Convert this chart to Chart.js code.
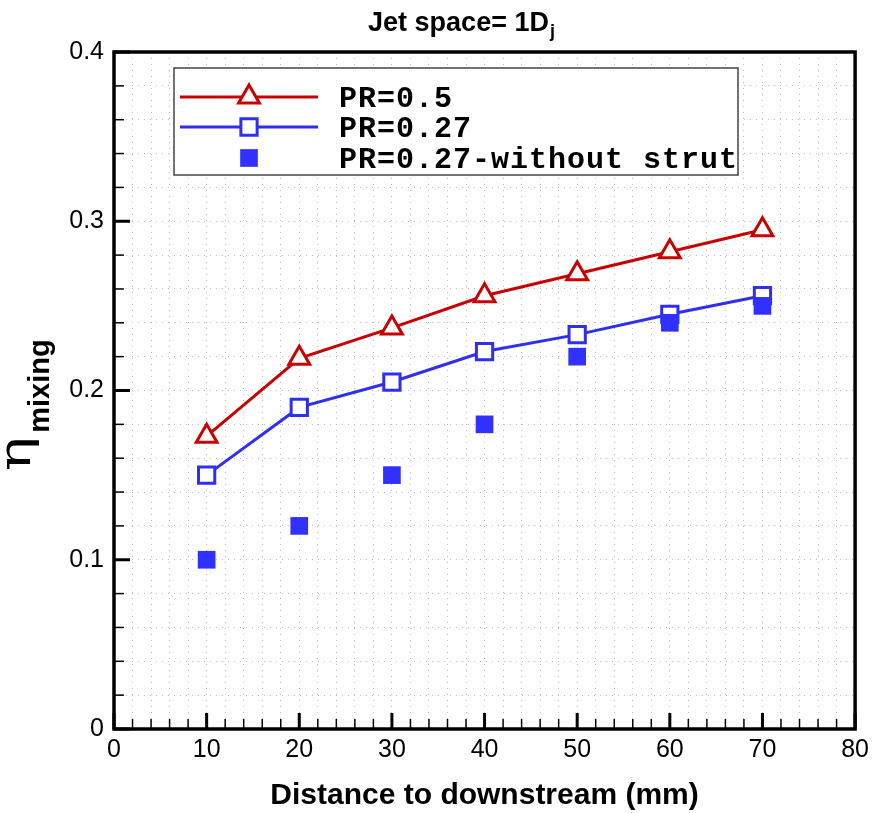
<!DOCTYPE html>
<html>
<head>
<meta charset="utf-8">
<script src="https://cdn.jsdelivr.net/npm/chart.js@4.4.1/dist/chart.umd.min.js"></script>
<style>
  html, body { margin: 0; padding: 0; background: #fff; }
  #chart { display: block; }
</style>
</head>
<body>
<canvas id="chart" width="875" height="813"></canvas>
<script>
// distance downstream (mm)
const distances = [10, 20, 30, 40, 50, 60, 70];
// mixing efficiency per series
const pr05 = [0.173, 0.219, 0.237, 0.256, 0.269, 0.282, 0.295];
const pr027 = [0.150, 0.190, 0.205, 0.223, 0.233, 0.245, 0.256];
const pr027NoStrut = [0.100, 0.120, 0.150, 0.180, 0.220, 0.240, 0.250];

const seriesLabels = ['PR=0.5', 'PR=0.27', 'PR=0.27-without strut'];
const xMajorTicks = [0, 10, 20, 30, 40, 50, 60, 70, 80];
const yMajorTicks = [0, 0.1, 0.2, 0.3, 0.4];

const RED = '#c80000';
const BLUE = '#2f2ff0';
const BLUE_FILL = '#3030ff';

function toPoints(ys) {
  return distances.map((x, i) => ({ x: x, y: ys[i] }));
}

// ticks hacia adentro, caja, leyenda y títulos
const decorPlugin = {
  id: 'decor',
  afterDatasetsDraw(chart) {
    const ctx = chart.ctx;
    const a = chart.chartArea;
    const xs = chart.scales.x;
    const ys = chart.scales.y;
    ctx.save();

    // ticks internos eje x
    ctx.strokeStyle = '#000';
    for (let v = 0; v <= 80; v += 2) {
      const px = xs.getPixelForValue(v);
      const major = v % 10 === 0;
      ctx.lineWidth = major ? 3 : 1.5;
      ctx.beginPath();
      ctx.moveTo(px, a.bottom);
      ctx.lineTo(px, a.bottom - (major ? 16 : 10));
      ctx.stroke();
    }
    // ticks internos eje y
    for (let i = 0; i <= 20; i++) {
      const v = i * 0.02;
      const py = ys.getPixelForValue(v);
      const major = i % 5 === 0;
      ctx.lineWidth = major ? 3 : 1.5;
      ctx.beginPath();
      ctx.moveTo(a.left, py);
      ctx.lineTo(a.left + (major ? 16 : 10), py);
      ctx.stroke();
    }

    // caja
    ctx.lineWidth = 3.5;
    ctx.strokeRect(a.left, a.top, a.right - a.left, a.bottom - a.top);

    // leyenda
    const lx = 174, ly = 68, lw = 564, lh = 107;
    ctx.fillStyle = '#fff';
    ctx.fillRect(lx, ly, lw, lh);
    ctx.strokeStyle = '#444';
    ctx.lineWidth = 1.5;
    ctx.strokeRect(lx, ly, lw, lh);

    const rows = [97, 127, 158];
    const styles = [
      { color: RED, fill: '#fff', style: 'triangle', radius: 12, bw: 3, line: true },
      { color: BLUE, fill: '#fff', style: 'rect', radius: 11.5, bw: 3, line: true },
      { color: BLUE_FILL, fill: BLUE_FILL, style: 'rect', radius: 12.5, bw: 0, line: false }
    ];
    styles.forEach((s, i) => {
      const y = rows[i];
      if (s.line) {
        ctx.strokeStyle = s.color;
        ctx.lineWidth = 3;
        ctx.beginPath();
        ctx.moveTo(180, y);
        ctx.lineTo(318, y);
        ctx.stroke();
      }
      ctx.fillStyle = s.fill;
      ctx.strokeStyle = s.color;
      ctx.lineWidth = s.bw;
      Chart.helpers.drawPoint(ctx, { pointStyle: s.style, radius: s.radius, rotation: 0, borderWidth: s.bw }, 249, y);

      ctx.fillStyle = '#000';
      ctx.font = 'bold 30px "Liberation Mono", "DejaVu Sans Mono", monospace';
      ctx.letterSpacing = '1px';
      ctx.textAlign = 'left';
      ctx.textBaseline = 'middle';
      ctx.fillText(seriesLabels[i], 339, y + 2);
      ctx.letterSpacing = '0px';
    });

    // título
    ctx.fillStyle = '#000';
    ctx.textBaseline = 'alphabetic';
    ctx.textAlign = 'left';
    ctx.font = 'bold 27px "Liberation Sans", Arial, sans-serif';
    const t = 'Jet space= 1D';
    const tw = ctx.measureText(t).width;
    ctx.font = 'bold 18px "Liberation Sans", Arial, sans-serif';
    const jw = ctx.measureText('j').width;
    const tx = 461 - (tw + jw) / 2;
    ctx.font = 'bold 27px "Liberation Sans", Arial, sans-serif';
    ctx.fillText(t, tx, 31);
    ctx.font = 'bold 18px "Liberation Sans", Arial, sans-serif';
    ctx.fillText('j', tx + tw + 1, 37);

    // título eje x
    ctx.font = 'bold 30px "Liberation Sans", Arial, sans-serif';
    ctx.textAlign = 'center';
    ctx.fillText('Distance to downstream (mm)', (a.left + a.right) / 2, 804);

    // título eje y (rotado)
    ctx.translate(30, 471);
    ctx.rotate(-Math.PI / 2);
    ctx.textAlign = 'left';
    ctx.font = '44px "DejaVu Serif", "Liberation Serif", serif';
    const ew = ctx.measureText('η').width * 1.3;
    ctx.save();
    ctx.scale(1.3, 1);
    ctx.fillText('η', 0, 0);
    ctx.restore();
    ctx.font = 'bold 29px "Liberation Sans", Arial, sans-serif';
    ctx.fillText('mixing', ew + 4, 19);
    ctx.restore();
  }
};

new Chart(document.getElementById('chart'), {
  type: 'line',
  data: {
    datasets: [
      {
        label: seriesLabels[0],
        data: toPoints(pr05),
        borderColor: RED,
        borderWidth: 3,
        pointStyle: 'triangle',
        pointRadius: 12,
        pointBorderWidth: 3,
        pointBackgroundColor: '#fff',
        pointBorderColor: RED,
        tension: 0,
        order: 2
      },
      {
        label: seriesLabels[1],
        data: toPoints(pr027),
        borderColor: BLUE,
        borderWidth: 3,
        pointStyle: 'rect',
        pointRadius: 11.5,
        pointBorderWidth: 3,
        pointBackgroundColor: '#fff',
        pointBorderColor: BLUE,
        tension: 0,
        order: 1
      },
      {
        label: seriesLabels[2],
        data: toPoints(pr027NoStrut),
        showLine: false,
        borderColor: BLUE_FILL,
        pointStyle: 'rect',
        pointRadius: 12.5,
        pointBorderWidth: 0,
        pointBackgroundColor: BLUE_FILL,
        order: 0
      }
    ]
  },
  options: {
    responsive: false,
    animation: false,
    events: [],
    layout: { padding: { top: 52, right: 18, left: 0, bottom: 0 } },
    plugins: {
      legend: { display: false },
      title: { display: false },
      tooltip: { enabled: false }
    },
    scales: {
      x: {
        type: 'linear',
        min: 0,
        max: 80,
        afterFit(scale) { scale.height = 84; },
        ticks: {
          stepSize: 2,
          autoSkip: false,
          maxRotation: 0,
          padding: 6,
          color: '#000',
          font: { family: '"Liberation Sans", Arial, sans-serif', size: 25 },
          callback: v => (xMajorTicks.includes(v) ? String(v) : '')
        },
        grid: { color: '#bdbdbd', lineWidth: 1, drawTicks: false },
        border: { display: false, dash: [1, 5] }
      },
      y: {
        min: 0,
        max: 0.4,
        afterFit(scale) { scale.width = 114; },
        ticks: {
          stepSize: 0.02,
          autoSkip: false,
          padding: 10,
          color: '#000',
          font: { family: '"Liberation Sans", Arial, sans-serif', size: 25 },
          callback: v => {
            const r = Math.round(v * 100) / 100;
            return yMajorTicks.some(m => Math.abs(m - r) < 1e-9) ? String(r) : '';
          }
        },
        grid: { color: '#bdbdbd', lineWidth: 1, drawTicks: false },
        border: { display: false, dash: [1, 5] }
      }
    }
  },
  plugins: [decorPlugin]
});
</script>
</body>
</html>
